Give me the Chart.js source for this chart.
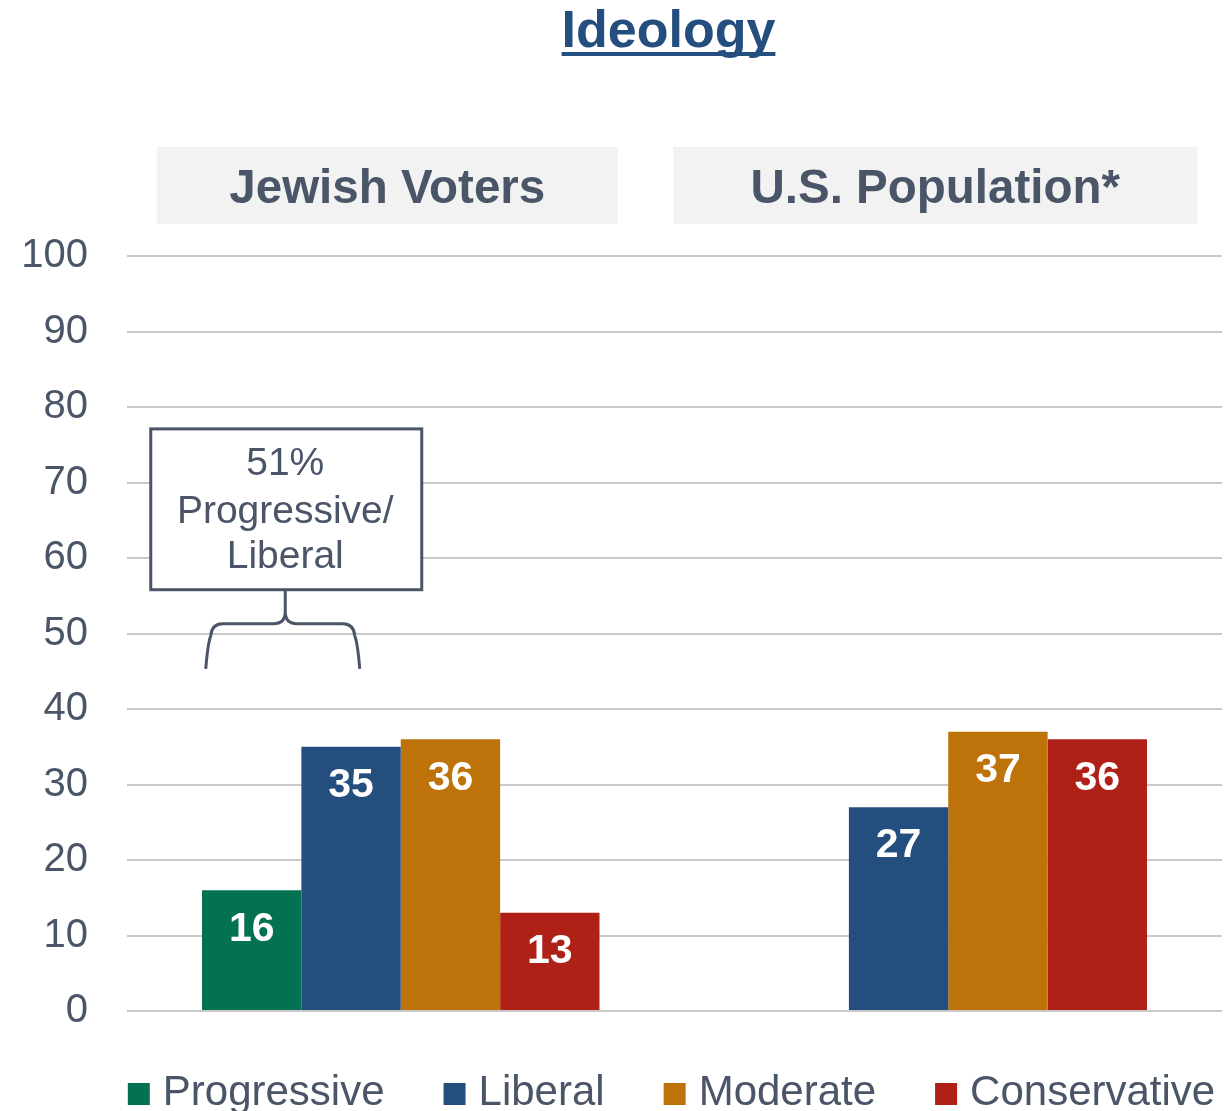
<!DOCTYPE html>
<html>
<head>
<meta charset="utf-8">
<script src="https://cdn.jsdelivr.net/npm/chart.js@4.4.1/dist/chart.umd.min.js"></script>
<style>
  html, body { margin: 0; padding: 0; background: #fff; width: 1227px; height: 1111px; overflow: hidden; }
  #wrap { position: relative; width: 1227px; height: 1111px; }
</style>
</head>
<body>
<div id="wrap"><canvas id="chart"></canvas></div>
<script>
// data
const groups = ['Jewish Voters', 'U.S. Population*'];
const progressive = [16, null];
const liberal = [35, 27];
const moderate = [36, 37];
const conservative = [13, 36];
const yMin = 0, yMax = 100, yStep = 10;

const FONT = "'Liberation Sans', Arial, sans-serif";
const TEXT = '#4a5568';

Chart.defaults.font.family = FONT;

// title with underline
const titlePlugin = {
  id: 'ideologyTitle',
  afterDraw(chart) {
    const ctx = chart.ctx;
    const { left, right } = chart.chartArea;
    const cx = (left + right) / 2 - 6;
    ctx.save();
    ctx.font = `bold 52px ${FONT}`;
    ctx.fillStyle = '#234e7e';
    ctx.textAlign = 'center';
    ctx.textBaseline = 'alphabetic';
    ctx.fillText('Ideology', cx, 47);
    const w = ctx.measureText('Ideology').width;
    ctx.fillRect(cx - w / 2, 52, w, 4);
    ctx.restore();
  }
};

// grey header boxes above each group
const headerPlugin = {
  id: 'groupHeaders',
  afterDraw(chart) {
    const ctx = chart.ctx;
    const x = chart.scales.x;
    const offs = [[-244, 217], [-275, 249]];
    ctx.save();
    groups.forEach((g, i) => {
      const c = x.getPixelForValue(i);
      const l = c + offs[i][0], r = c + offs[i][1];
      ctx.fillStyle = '#f2f2f2';
      ctx.fillRect(l, 147, r - l, 77);
      ctx.fillStyle = TEXT;
      ctx.font = `bold 47.5px ${FONT}`;
      ctx.textAlign = 'center';
      ctx.textBaseline = 'middle';
      ctx.fillText(g, (l + r) / 2, 190);
    });
    ctx.restore();
  }
};

// white value labels inside bar tops
const valueLabels = {
  id: 'valueLabels',
  afterDatasetsDraw(chart) {
    const ctx = chart.ctx;
    ctx.save();
    ctx.font = `bold 41px ${FONT}`;
    ctx.fillStyle = '#ffffff';
    ctx.textAlign = 'center';
    ctx.textBaseline = 'middle';
    chart.data.datasets.forEach((ds, di) => {
      chart.getDatasetMeta(di).data.forEach((bar, i) => {
        const v = ds.data[i];
        if (v == null) return;
        ctx.fillText(String(v), bar.x, bar.y + 39);
      });
    });
    ctx.restore();
  }
};

// callout box + brace over progressive/liberal
const calloutPlugin = {
  id: 'callout',
  afterDraw(chart) {
    const ctx = chart.ctx;
    const x = chart.scales.x, y = chart.scales.y;
    const c = x.getPixelForValue(0);
    const bl = c - 250, br = c + 21;
    const bt = y.getPixelForValue(77.1), bb = y.getPixelForValue(55.8);
    const tip = (bl + br) / 2 - 1;
    const mid = y.getPixelForValue(51.3);
    const end = y.getPixelForValue(45.3);
    const legL = c - 195, legR = c - 41;
    ctx.save();
    ctx.fillStyle = '#ffffff';
    ctx.fillRect(bl, bt, br - bl, bb - bt);
    ctx.strokeStyle = TEXT;
    ctx.lineWidth = 3;
    ctx.strokeRect(bl, bt, br - bl, bb - bt);

    ctx.fillStyle = TEXT;
    ctx.font = `39px ${FONT}`;
    ctx.textAlign = 'center';
    ctx.textBaseline = 'middle';
    [['51%', 35], ['Progressive/', 83], ['Liberal', 128]].forEach(([t, dy]) => {
      ctx.fillText(t, tip, bt + dy);
    });

    const r = 12;
    ctx.beginPath();
    ctx.moveTo(legL, end);
    ctx.quadraticCurveTo(legL + 2, mid + 20, legL + 5, mid + r);
    ctx.quadraticCurveTo(legL + 6, mid, legL + 5 + r, mid);
    ctx.lineTo(tip - r, mid);
    ctx.quadraticCurveTo(tip, mid, tip, mid - r);
    ctx.lineTo(tip, bb);
    ctx.moveTo(tip, mid - r);
    ctx.quadraticCurveTo(tip, mid, tip + r, mid);
    ctx.lineTo(legR - 5 - r, mid);
    ctx.quadraticCurveTo(legR - 6, mid, legR - 5, mid + r);
    ctx.quadraticCurveTo(legR - 2, mid + 20, legR, end);
    ctx.stroke();
    ctx.restore();
  }
};

// legend along the bottom, drawn from the dataset labels/colours
const legendPlugin = {
  id: 'bottomLegend',
  afterDraw(chart) {
    const ctx = chart.ctx;
    const box = 22, gapText = 13, gapItem = 59;
    ctx.save();
    ctx.font = `42px ${FONT}`;
    const items = chart.data.datasets.map(ds => ({
      label: ds.label, color: ds.backgroundColor, w: ctx.measureText(ds.label).width
    }));
    const total = items.reduce((s, it) => s + box + gapText + it.w, 0) + gapItem * (items.length - 1);
    let xPos = (chart.chartArea.left + chart.chartArea.right) / 2 - 3 - total / 2;
    const baseline = 1105;
    ctx.textAlign = 'left';
    ctx.textBaseline = 'alphabetic';
    items.forEach(it => {
      ctx.fillStyle = it.color;
      ctx.fillRect(xPos, baseline - 22, box, box);
      ctx.fillStyle = TEXT;
      ctx.fillText(it.label, xPos + box + gapText, baseline);
      xPos += box + gapText + it.w + gapItem;
    });
    ctx.restore();
  }
};

new Chart(document.getElementById('chart'), {
  type: 'bar',
  data: {
    labels: groups,
    datasets: [
      { label: 'Progressive', data: progressive, backgroundColor: '#047153' },
      { label: 'Liberal', data: liberal, backgroundColor: '#234e7e' },
      { label: 'Moderate', data: moderate, backgroundColor: '#bd7309' },
      { label: 'Conservative', data: conservative, backgroundColor: '#af2117' }
    ].map(d => Object.assign(d, { borderWidth: 0, barPercentage: 1, categoryPercentage: 0.726 }))
  },
  options: {
    responsive: true,
    maintainAspectRatio: false,
    animation: false,
    layout: { padding: { left: 0, right: 5, top: 256, bottom: 0 } },
    scales: {
      x: {
        grid: { display: false },
        border: { display: false },
        ticks: { display: false },
        afterFit: s => { s.height = 100; }
      },
      y: {
        min: yMin,
        max: yMax,
        ticks: { stepSize: yStep, padding: 39, color: TEXT, font: { size: 40 } },
        grid: { color: '#c9c9c9', lineWidth: 2, drawTicks: false },
        border: { display: false },
        afterFit: s => { s.width = 127; }
      }
    },
    plugins: {
      legend: { display: false },
      tooltip: { enabled: false }
    }
  },
  plugins: [titlePlugin, headerPlugin, valueLabels, calloutPlugin, legendPlugin]
});
</script>
</body>
</html>
